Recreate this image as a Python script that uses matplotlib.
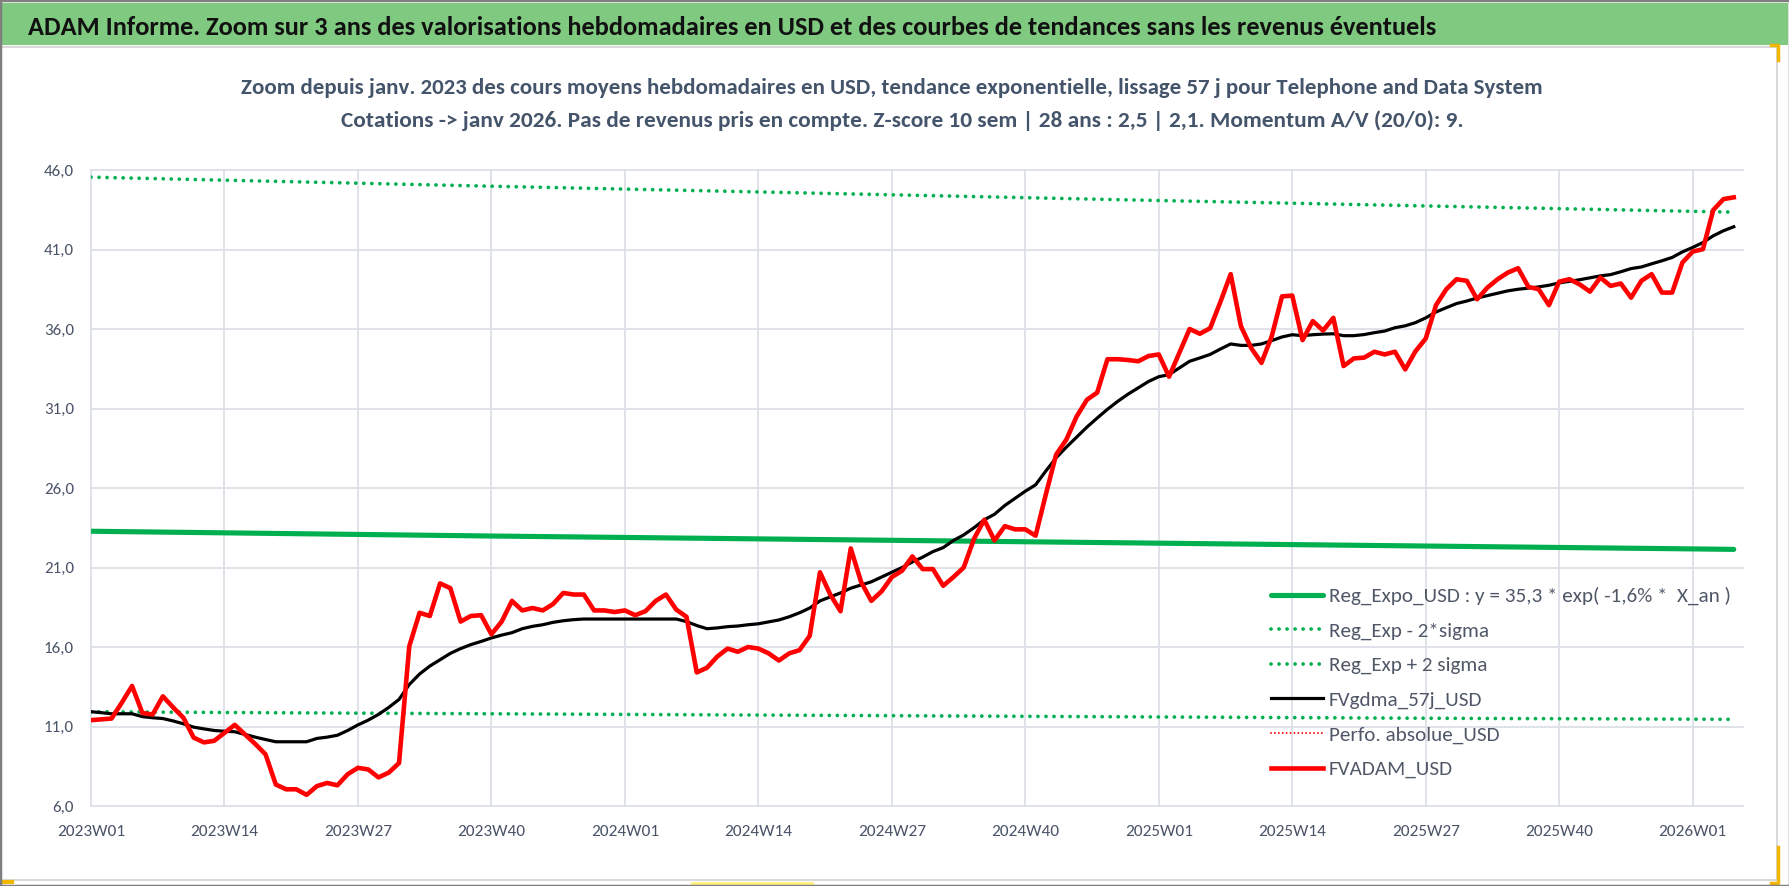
import numpy as np
import matplotlib
matplotlib.use("Agg")
import matplotlib.pyplot as plt
from matplotlib import font_manager as fm
from matplotlib.lines import Line2D
from matplotlib.patches import Rectangle

# ---------------- data ----------------
title_text = "ADAM Informe. Zoom sur 3 ans des valorisations hebdomadaires en USD et des courbes de tendances sans les revenus éventuels"
subtitle_1 = "Zoom depuis janv. 2023 des cours moyens hebdomadaires en USD, tendance exponentielle, lissage 57 j pour Telephone and Data System"
subtitle_2 = "Cotations -> janv 2026. Pas de revenus pris en compte. Z-score 10 sem | 28 ans : 2,5 | 2,1. Momentum A/V (20/0): 9."

tick_labels = ["2023W01", "2023W14", "2023W27", "2023W40", "2024W01", "2024W14", "2024W27",
               "2024W40", "2025W01", "2025W14", "2025W27", "2025W40", "2026W01"]
tick_weeks = [0, 13, 26, 39, 52, 65, 78, 91, 104, 117, 130, 143, 156]
y_ticks = [6, 11, 16, 21, 26, 31, 36, 41, 46]
y_tick_labels = ["6,0", "11,0", "16,0", "21,0", "26,0", "31,0", "36,0", "41,0", "46,0"]

fvadam_usd = [
    11.4, 11.45, 11.5, 12.5, 13.55, 11.85, 11.75, 12.9, 12.2, 11.55,
    10.3, 10.0, 10.1, 10.6, 11.1, 10.5, 9.9, 9.25, 7.35, 7.05,
    7.05, 6.7, 7.25, 7.45, 7.3, 8.0, 8.4, 8.3, 7.8, 8.1,
    8.7, 16.05, 18.15, 17.95, 20.0, 19.7, 17.6, 17.95, 18.0, 16.8,
    17.6, 18.9, 18.3, 18.45, 18.3, 18.7, 19.4, 19.3, 19.3, 18.3,
    18.3, 18.2, 18.3, 18.0, 18.25, 18.9, 19.3, 18.35, 17.9, 14.4,
    14.7, 15.4, 15.9, 15.7, 16.0, 15.9, 15.6, 15.15, 15.6, 15.8,
    16.7, 20.7, 19.3, 18.25, 22.2, 20.1, 18.9, 19.5, 20.4, 20.8,
    21.7, 20.9, 20.9, 19.85, 20.4, 21.0, 22.8, 24.0, 22.7, 23.6,
    23.4, 23.4, 23.0, 25.6, 28.1, 29.05, 30.5, 31.55, 32.0, 34.1,
    34.1, 34.05, 33.97, 34.3, 34.4, 33.0, 34.5, 36.0, 35.7, 36.05,
    37.7, 39.45, 36.17, 34.8, 33.87, 35.54, 38.05, 38.1, 35.3, 36.5,
    35.9, 36.7, 33.67, 34.15, 34.2, 34.57, 34.4, 34.57, 33.46, 34.6,
    35.4, 37.5, 38.5, 39.13, 39.03, 37.87, 38.6, 39.13, 39.55, 39.82,
    38.65, 38.5, 37.5, 38.98, 39.13, 38.8, 38.35, 39.24, 38.71, 38.86,
    37.97, 39.03, 39.45, 38.29, 38.29, 40.18, 40.87, 41.02, 43.48, 44.17,
    44.28,
]

fvgdma_57j_usd = [
    11.93, 11.87, 11.8, 11.8, 11.8, 11.62, 11.55, 11.5, 11.35, 11.17,
    10.96, 10.85, 10.75, 10.7, 10.67, 10.5, 10.33, 10.18, 10.04, 10.04,
    10.04, 10.04, 10.25, 10.33, 10.45, 10.75, 11.1, 11.4, 11.76, 12.2,
    12.7, 13.64, 14.3, 14.8, 15.2, 15.6, 15.9, 16.15, 16.35, 16.57,
    16.75, 16.9, 17.15, 17.3, 17.4, 17.55, 17.65, 17.72, 17.76, 17.76,
    17.76, 17.76, 17.76, 17.76, 17.76, 17.76, 17.76, 17.76, 17.6, 17.35,
    17.15, 17.2, 17.28, 17.32, 17.4, 17.46, 17.58, 17.7, 17.9, 18.15,
    18.45, 18.9, 19.15, 19.4, 19.7, 19.9, 20.1, 20.4, 20.7, 21.0,
    21.35, 21.65, 22.0, 22.25, 22.7, 23.05, 23.5, 24.0, 24.35, 24.9,
    25.35, 25.8, 26.2, 27.07, 27.9, 28.57, 29.2, 29.83, 30.4, 30.95,
    31.45, 31.9, 32.3, 32.7, 33.0, 33.13, 33.55, 33.97, 34.18, 34.4,
    34.74, 35.06, 34.97, 34.97, 35.06, 35.27, 35.5, 35.64, 35.58, 35.64,
    35.68, 35.7, 35.58, 35.58, 35.65, 35.77, 35.87, 36.08, 36.2, 36.4,
    36.7, 37.07, 37.34, 37.6, 37.76, 37.95, 38.1, 38.25, 38.4, 38.5,
    38.57, 38.65, 38.75, 38.9, 39.0, 39.1, 39.22, 39.34, 39.42, 39.6,
    39.8, 39.9, 40.1, 40.29, 40.5, 40.85, 41.13, 41.44, 41.86, 42.18,
    42.43,
]

# trend curves read at the labelled weeks and at the last week
trend_weeks = [0, 13, 26, 39, 52, 65, 78, 91, 104, 117, 130, 143, 156, 160]
reg_expo_usd = [23.28, 23.18, 23.08, 22.98, 22.89, 22.80, 22.71, 22.62, 22.53, 22.44, 22.35, 22.26, 22.17, 22.14]
reg_exp_minus_2sigma = [11.93, 11.88, 11.84, 11.80, 11.76, 11.72, 11.68, 11.64, 11.60, 11.56, 11.52, 11.49, 11.46, 11.45]
reg_exp_plus_2sigma = [45.55, 45.36, 45.17, 44.98, 44.80, 44.62, 44.44, 44.26, 44.08, 43.91, 43.74, 43.57, 43.40, 43.35]
perfo_absolue_usd = []  # series present in legend only

legend_labels = ["Reg_Expo_USD : y = 35,3 * exp( -1,6% *  X_an )", "Reg_Exp - 2*sigma",
                 "Reg_Exp + 2 sigma", "FVgdma_57j_USD", "Perfo. absolue_USD", "FVADAM_USD"]

# ---------------- fonts ----------------
W, H, DPI = 1790, 886, 100


def _weight(f):
    w = f.weight
    if isinstance(w, str):
        w = fm.weight_dict.get(w, 400)
    return int(w)


def choose_font(bold):
    target = 700 if bold else 400
    ents = [f for f in fm.fontManager.ttflist
            if f.style == 'normal' and f.fname.lower().endswith(('.ttf', '.otf'))]
    groups = [[f for f in ents if f.name == 'Carlito']]
    cond = [f for f in ents if str(f.stretch) in ('condensed', 'semi-condensed')]
    for fam in ['Liberation Sans Narrow', 'Open Sans', 'Noto Sans', 'Roboto', 'DejaVu Sans']:
        groups.append([f for f in cond if f.name.startswith(fam)])
    groups.append(cond)
    groups.append([f for f in ents if f.name == 'Liberation Sans'])
    groups.append([f for f in ents if f.name == 'DejaVu Sans'])
    for g in groups:
        if g:
            best = min(g, key=lambda f: abs(_weight(f) - target))
            return fm.FontProperties(fname=best.fname)
    return fm.FontProperties(family='DejaVu Sans', weight='bold' if bold else 'normal')


fp_reg = choose_font(False)
fp_bold = choose_font(True)

fig = plt.figure(figsize=(W / DPI, H / DPI), dpi=DPI)
fig.patch.set_facecolor('white')
renderer = fig.canvas.get_renderer()


def fx(px):
    return px / W


def fy(py):
    return 1 - py / H


def fit_size(s, fp, width_px):
    t = fig.text(0, 0, s, fontproperties=fp, fontsize=20)
    w = t.get_window_extent(renderer).width
    t.remove()
    return 20 * width_px / w


# ---------------- frame decorations ----------------
fig.patches.append(Rectangle((fx(2), fy(45)), fx(1786), 42 / H, transform=fig.transFigure,
                             facecolor='#80C980', edgecolor='none', zorder=0))
fig.add_artist(Line2D([fx(0), fx(1777)], [fy(47), fy(47)], color='#D9D9D9', lw=1.5))
fig.add_artist(Line2D([fx(1777), fx(1777)], [fy(47), fy(880)], color='#D9D9D9', lw=1.5))
fig.add_artist(Line2D([fx(0), fx(1777)], [fy(880), fy(880)], color='#D9D9D9', lw=1.5))
fig.add_artist(Line2D([fx(0), fx(12)], [fy(882), fy(882)], color='#F2B705', lw=3))
fig.add_artist(Line2D([fx(692), fx(812)], [fy(883), fy(883)], color='#FFF27A', lw=2))
fig.add_artist(Line2D([fx(1771), fx(1778), fx(1778)], [fy(45), fy(45), fy(60)], color='#F2B705', lw=2.5))
fig.add_artist(Line2D([fx(1778), fx(1778), fx(1771)], [fy(847), fy(883), fy(883)], color='#F2B705', lw=2.5))
fig.patches.append(Rectangle((0, 0), 1, 1, transform=fig.transFigure, fill=False,
                             edgecolor='#7F7F7F', lw=2.5, zorder=10))

# ---------------- titles ----------------
s = fit_size(title_text, fp_bold, 1411)
fig.text(fx(28), fy(35), title_text, fontproperties=fp_bold, fontsize=s, color='#111111',
         ha='left', va='baseline')
s1 = fit_size(subtitle_1, fp_bold, 1299)
fig.text(fx(892), fy(94), subtitle_1, fontproperties=fp_bold, fontsize=s1, color='#44546A',
         ha='center', va='baseline')
s2 = fit_size(subtitle_2, fp_bold, 1120)
fig.text(fx(902), fy(127), subtitle_2, fontproperties=fp_bold, fontsize=s2, color='#44546A',
         ha='center', va='baseline')

# ---------------- axes ----------------
ax = fig.add_axes([fx(91), fy(806), (1743 - 91) / W, (806 - 170) / H])
ax.set_facecolor('none')
weeks = np.arange(len(fvadam_usd))
green = '#00B050'

l_reg, = ax.plot(trend_weeks, reg_expo_usd, color=green, lw=3.7, solid_capstyle='round', zorder=3)
dot_style = (0, (0.01, 2.13))
l_m2, = ax.plot(trend_weeks, reg_exp_minus_2sigma, color=green, lw=2.7, linestyle=dot_style,
                dash_capstyle='round', zorder=3)
l_p2, = ax.plot(trend_weeks, reg_exp_plus_2sigma, color=green, lw=2.7, linestyle=dot_style,
                dash_capstyle='round', zorder=3)
l_gdma, = ax.plot(weeks, fvgdma_57j_usd, color='black', lw=2.3, solid_joinstyle='round', zorder=4)
l_perfo, = ax.plot(np.arange(len(perfo_absolue_usd)), perfo_absolue_usd, color='#FF0000', lw=1.4,
                   linestyle=(0, (0.01, 2.0)), dash_capstyle='round')
l_adam, = ax.plot(weeks, fvadam_usd, color='#FF0000', lw=3.3, solid_joinstyle='round', zorder=5)

ax.set_xlim(0, 160.9)
ax.set_ylim(6, 46)
for sp in ax.spines.values():
    sp.set_visible(False)
ax.set_xticks(tick_weeks)
ax.set_yticks(y_ticks)
ax.grid(True, color='#DCDFE6', lw=1.3, zorder=0)
ax.set_axisbelow(True)
for gl in ax.get_xgridlines() + ax.get_ygridlines():
    gl.set_clip_on(False)

tick_col = '#4A5468'
ys = fit_size("46,0", fp_reg, 30)
xs = fit_size("2023W01", fp_reg, 68)
ax.set_yticklabels(y_tick_labels, fontproperties=fp_reg, fontsize=ys, color=tick_col)
ax.set_xticklabels(tick_labels, fontproperties=fp_reg, fontsize=xs, color=tick_col)
ax.tick_params(axis='y', length=0, pad=17 * 72 / DPI)
ax.tick_params(axis='x', length=0, pad=19 * 72 / DPI)

# ---------------- legend ----------------
ls_size = fit_size(legend_labels[0], fp_reg, 401)
fp_leg = fp_reg.copy()
fp_leg.set_size(ls_size)
Fpx = ls_size * DPI / 72
handles = [l_reg, l_m2, l_p2, l_gdma, l_perfo, l_adam]


def build(lsp, anchor):
    leg = ax.legend(handles, legend_labels, loc='upper left', bbox_to_anchor=anchor,
                    bbox_transform=fig.transFigure, frameon=False, prop=fp_leg,
                    handlelength=52 / Fpx, handletextpad=6 / Fpx, labelspacing=lsp,
                    borderpad=0, borderaxespad=0, labelcolor='#505868')
    fig.canvas.draw()
    bbs = [t.get_window_extent(renderer) for t in leg.get_texts()]
    return leg, bbs


anchor = [fx(1271), fy(580)]
lsp = 0.3
leg, bbs = build(lsp, anchor)
d = (bbs[0].y0 - bbs[-1].y0) / 5
lsp = lsp + (34.6 - d) / Fpx
leg.remove()
leg, bbs = build(lsp, anchor)
cy = (bbs[0].y0 + bbs[0].y1) / 2
dx = 1329 - bbs[0].x0
dy = (H - 596) - cy
anchor = [anchor[0] + dx / W, anchor[1] + dy / H]
leg.remove()
leg, bbs = build(lsp, anchor)

fig.savefig("out.png", dpi=DPI, facecolor='white')
